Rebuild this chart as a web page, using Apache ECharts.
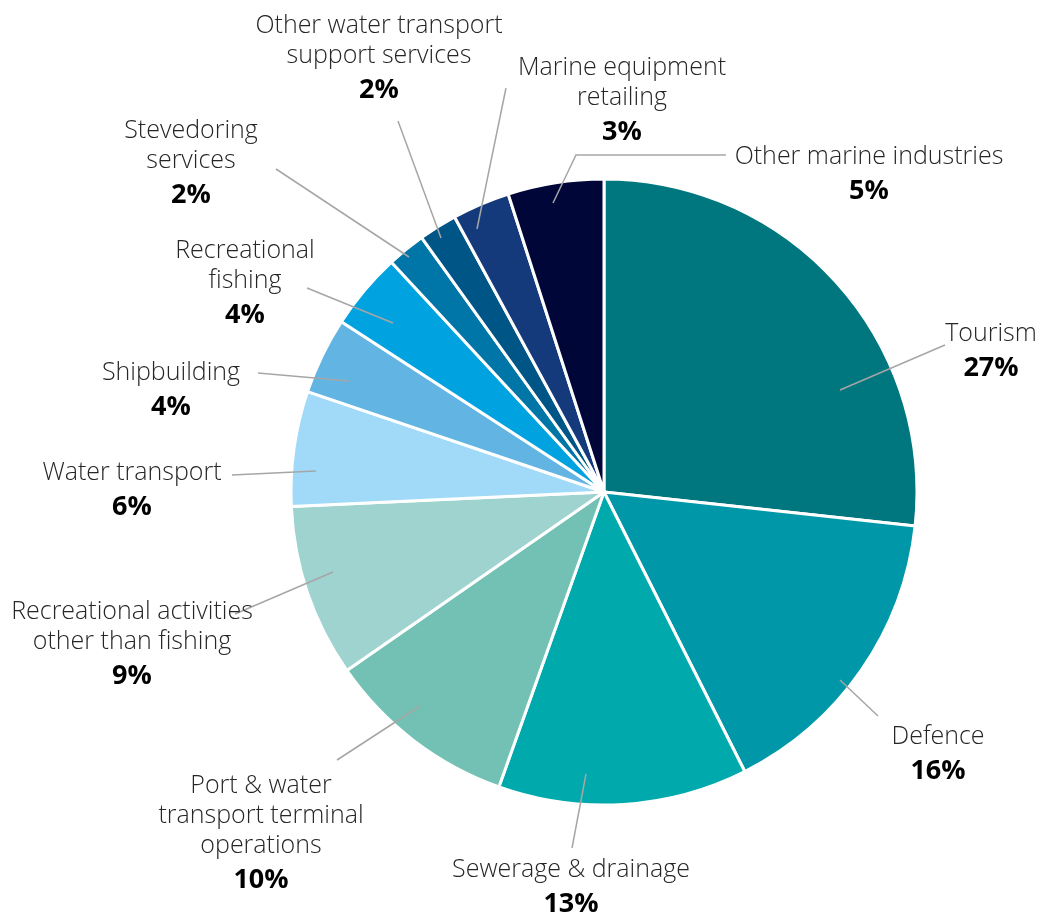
<!DOCTYPE html>
<html>
<head>
<meta charset="utf-8">
<script src="https://cdn.jsdelivr.net/npm/echarts@6/dist/echarts.min.js"></script>
<style>
  html, body { margin: 0; padding: 0; background: #ffffff; }
  #chart { width: 1038px; height: 914px; }
</style>
</head>
<body>
<div id="chart"></div>
<script>
// Marine economy: share of output by industry (%)
const industries = [
  'Tourism',
  'Defence',
  'Sewerage & drainage',
  'Port & water\ntransport terminal\noperations',
  'Recreational activities\nother than fishing',
  'Water transport',
  'Shipbuilding',
  'Recreational\nfishing',
  'Stevedoring\nservices',
  'Other water transport\nsupport services',
  'Marine equipment\nretailing',
  'Other marine industries'
];
const shares = [27, 16, 13, 10, 9, 6, 4, 4, 2, 2, 3, 5];
const sliceColors = [
  '#00767E', '#0097A9', '#00A9AC', '#72C1B4', '#9ED3D0', '#A1DAF8',
  '#62B4E3', '#00A3E0', '#0076A8', '#005587', '#153A7C', '#000638'
];

// Pie geometry (pixels)
const CX = 604, CY = 492, R = 313;

// Label placement relative to the pie centre: text block anchor (top-centre)
// and leader line running from inside the slice out to the label.
const labelSpots = [
  { at: [387, -173], line: [[236, -102], [341, -147], [341, -147]] },
  { at: [334, 230],  line: [[236, 188], [274, 224], [274, 224]] },
  { at: [-33, 363],  line: [[-18, 282], [-32, 356], [-32, 356]] },
  { at: [-343, 279], line: [[-184, 214], [-267, 268], [-267, 268]] },
  { at: [-472, 105], line: [[-271, 80], [-369, 122], [-369, 122]] },
  { at: [-472, -34], line: [[-288, -21], [-372, -17], [-372, -17]] },
  { at: [-433, -134], line: [[-255, -111], [-346, -119], [-346, -119]] },
  { at: [-359, -256], line: [[-211, -169], [-297, -204], [-297, -204]] },
  { at: [-413, -376], line: [[-195, -235], [-328, -323], [-328, -323]] },
  { at: [-225, -481], line: [[-163, -254], [-206, -371], [-206, -371]] },
  { at: [18, -439],  line: [[-127, -263], [-98, -404], [-98, -404]] },
  { at: [265, -350], line: [[-51, -289], [-28, -337], [122, -337]] }
];

const sliceData = industries.map((name, i) => ({
  name: name,
  value: shares[i],
  itemStyle: { color: sliceColors[i] }
}));

const chart = echarts.init(document.getElementById('chart'), null, { renderer: 'canvas' });

chart.setOption({
  backgroundColor: '#ffffff',
  animation: false,
  series: [
    // Coloured slices
    {
      type: 'pie',
      z: 2,
      center: [CX, CY],
      radius: R,
      startAngle: 90,
      clockwise: true,
      silent: true,
      data: sliceData,
      itemStyle: { borderColor: '#ffffff', borderWidth: 3 },
      emphasis: { disabled: true },
      label: { show: false },
      labelLine: { show: false }
    },
    // Transparent twin on top carrying labels, so leader lines reach into the slices
    {
      type: 'pie',
      z: 3,
      center: [CX, CY],
      radius: R,
      startAngle: 90,
      clockwise: true,
      silent: true,
      avoidLabelOverlap: false,
      data: industries.map((name, i) => ({ name: name, value: shares[i] })),
      itemStyle: { color: 'rgba(0,0,0,0)', borderWidth: 0 },
      emphasis: { disabled: true },
      label: {
        show: true,
        position: 'outside',
        align: 'center',
        fontFamily: 'Open Sans',
        formatter: (p) => p.name.split('\n').map(s => '{n|' + s + '}').join('\n') + '\n{p|' + p.value + '%}',
        rich: {
          n: { fontFamily: 'Open Sans', fontSize: 25, fontWeight: 300, color: '#262626', lineHeight: 30, align: 'center' },
          p: { fontFamily: 'Open Sans', fontSize: 27, fontWeight: 'bold', color: '#000000', lineHeight: 38, align: 'center' }
        }
      },
      labelLine: {
        show: true,
        lineStyle: { color: '#A6A6A6', width: 1.5 }
      },
      labelLayout: (params) => {
        const spot = labelSpots[params.dataIndex];
        return {
          x: CX + spot.at[0],
          y: CY + spot.at[1],
          align: 'center',
          verticalAlign: 'top',
          labelLinePoints: spot.line.map(pt => [CX + pt[0], CY + pt[1]])
        };
      }
    }
  ]
});
</script>
</body>
</html>
